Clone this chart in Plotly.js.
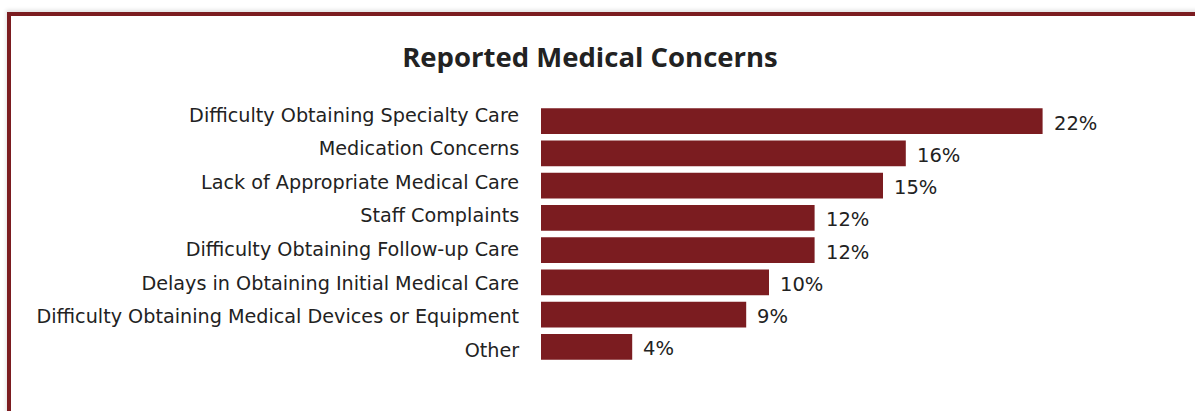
<!DOCTYPE html>
<html>
<head>
<meta charset="utf-8">
<script src="https://cdn.plot.ly/plotly-3.0.1.min.js"></script>
<style>
  html, body { margin: 0; padding: 0; background: #fff; width: 1195px; height: 411px; overflow: hidden; }
  #chart { position: absolute; left: 0; top: 0; width: 1195px; height: 411px; }
  #frame { position: absolute; left: 7px; top: 12px; width: 1300px; height: 500px;
           border-left: 4px solid #7B1C20; border-top: 4px solid #7B1C20; pointer-events: none;
           box-shadow: -1px -2px 4px rgba(0,0,0,0.12); }
</style>
</head>
<body>
<div id="chart"></div>
<div id="frame"></div>
<script>
const categories = [
  "Difficulty Obtaining Specialty Care",
  "Medication Concerns",
  "Lack of Appropriate Medical Care",
  "Staff Complaints",
  "Difficulty Obtaining Follow-up Care",
  "Delays in Obtaining Initial Medical Care",
  "Difficulty Obtaining Medical Devices or Equipment",
  "Other"
];
const values = [22, 16, 15, 12, 12, 10, 9, 4];
const valueLabels = ["22%", "16%", "15%", "12%", "12%", "10%", "9%", "4%"];

const FONT = "DejaVu Sans, Verdana, sans-serif";

const bars = {
  type: "bar",
  orientation: "h",
  y: categories,
  x: values,
  marker: { color: "#7B1C20" },
  hoverinfo: "none"
};

// invisible copy on a second category axis that carries the row labels
const labelCarrier = {
  type: "bar",
  orientation: "h",
  y: categories,
  x: values,
  yaxis: "y2",
  marker: { color: "rgba(0,0,0,0)" },
  hoverinfo: "none"
};

const annotations = categories.map((c, i) => ({
  x: values[i], y: c, xref: "x", yref: "y",
  text: valueLabels[i], showarrow: false,
  xanchor: "left", yanchor: "middle", xshift: 9, yshift: -2,
  font: { family: FONT, size: 19.5, color: "#222" }
}));

const layout = {
  width: 1195,
  height: 411,
  paper_bgcolor: "#fff",
  plot_bgcolor: "#fff",
  margin: { l: 541, r: 84, t: 105, b: 48 },
  bargap: 0.195,
  showlegend: false,
  annotations: annotations,
  title: {
    text: "<b>Reported Medical Concerns</b>",
    font: { family: "Open Sans, Noto Sans, sans-serif", size: 27.5, color: "#222" },
    x: 590 / 1195, xanchor: "center", xref: "container",
    y: 1 - 57 / 411, yanchor: "middle", yref: "container"
  },
  xaxis: {
    range: [0, 25],
    visible: false,
    fixedrange: true
  },
  yaxis: {
    autorange: "reversed",
    showgrid: false,
    zeroline: false,
    showline: false,
    showticklabels: false,
    fixedrange: true
  },
  yaxis2: {
    overlaying: "y",
    side: "left",
    range: [7.387, -0.298],
    showgrid: false,
    zeroline: false,
    showline: false,
    ticks: "outside",
    ticklen: 17,
    tickcolor: "rgba(0,0,0,0)",
    tickfont: { family: FONT, size: 19.2, color: "#222" },
    fixedrange: true
  }
};

Plotly.newPlot("chart", [bars, labelCarrier], layout, { displayModeBar: false, staticPlot: true });
</script>
</body>
</html>
